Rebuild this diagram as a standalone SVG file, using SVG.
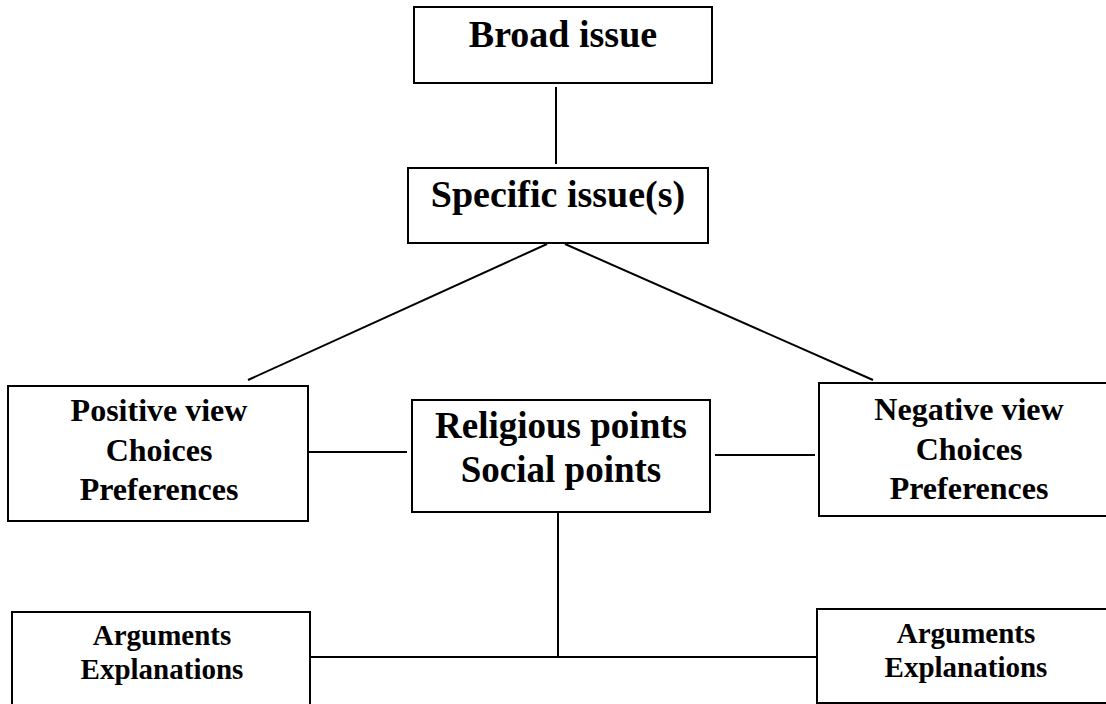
<svg xmlns="http://www.w3.org/2000/svg" width="1106" height="704" viewBox="0 0 1106 704">
<style>
.box{fill:#fff;stroke:#000;stroke-width:2}
.con{stroke:#000;stroke-width:2;fill:none}
text{font-family:"Liberation Serif","Times New Roman",serif;font-weight:bold;fill:#000;text-anchor:middle}
.t38{font-size:38px}
.t37{font-size:37px}
.t32{font-size:32px}
.t29{font-size:29px}
</style>
<rect width="1106" height="704" fill="#fff"/>
<g id="connectors">
<line class="con" x1="556" y1="87" x2="556" y2="164"/>
<line class="con" x1="547" y1="244" x2="248" y2="380"/>
<line class="con" x1="565" y1="244" x2="873" y2="380"/>
<line class="con" x1="308" y1="452" x2="407" y2="452"/>
<line class="con" x1="715" y1="455" x2="815" y2="455"/>
<line class="con" x1="558" y1="512" x2="558" y2="657"/>
<line class="con" x1="310" y1="657" x2="816" y2="657"/>
</g>
<g id="broad">
<rect class="box" x="414" y="7" width="298" height="76"/>
<text class="t38" x="563" y="47">Broad issue</text>
</g>
<g id="specific">
<rect class="box" x="408" y="168" width="300" height="75"/>
<text class="t38" x="558" y="207">Specific issue(s)</text>
</g>
<g id="positive">
<rect class="box" x="8" y="386" width="300" height="135"/>
<text class="t32" x="159" y="421">Positive view</text>
<text class="t32" x="159" y="461">Choices</text>
<text class="t32" x="159" y="500">Preferences</text>
</g>
<g id="points">
<rect class="box" x="412" y="400" width="298" height="112"/>
<text class="t37" x="561" y="438">Religious points</text>
<text class="t37" x="561" y="482">Social points</text>
</g>
<g id="negative">
<rect class="box" x="819" y="383" width="300" height="133"/>
<text class="t32" x="969" y="420">Negative view</text>
<text class="t32" x="969" y="460">Choices</text>
<text class="t32" x="969" y="499">Preferences</text>
</g>
<g id="args-left">
<rect class="box" x="12" y="612" width="298" height="110"/>
<text class="t29" x="162" y="645">Arguments</text>
<text class="t29" x="162" y="679">Explanations</text>
</g>
<g id="args-right">
<rect class="box" x="817" y="609" width="300" height="94"/>
<text class="t29" x="966" y="643">Arguments</text>
<text class="t29" x="966" y="677">Explanations</text>
</g>
</svg>
